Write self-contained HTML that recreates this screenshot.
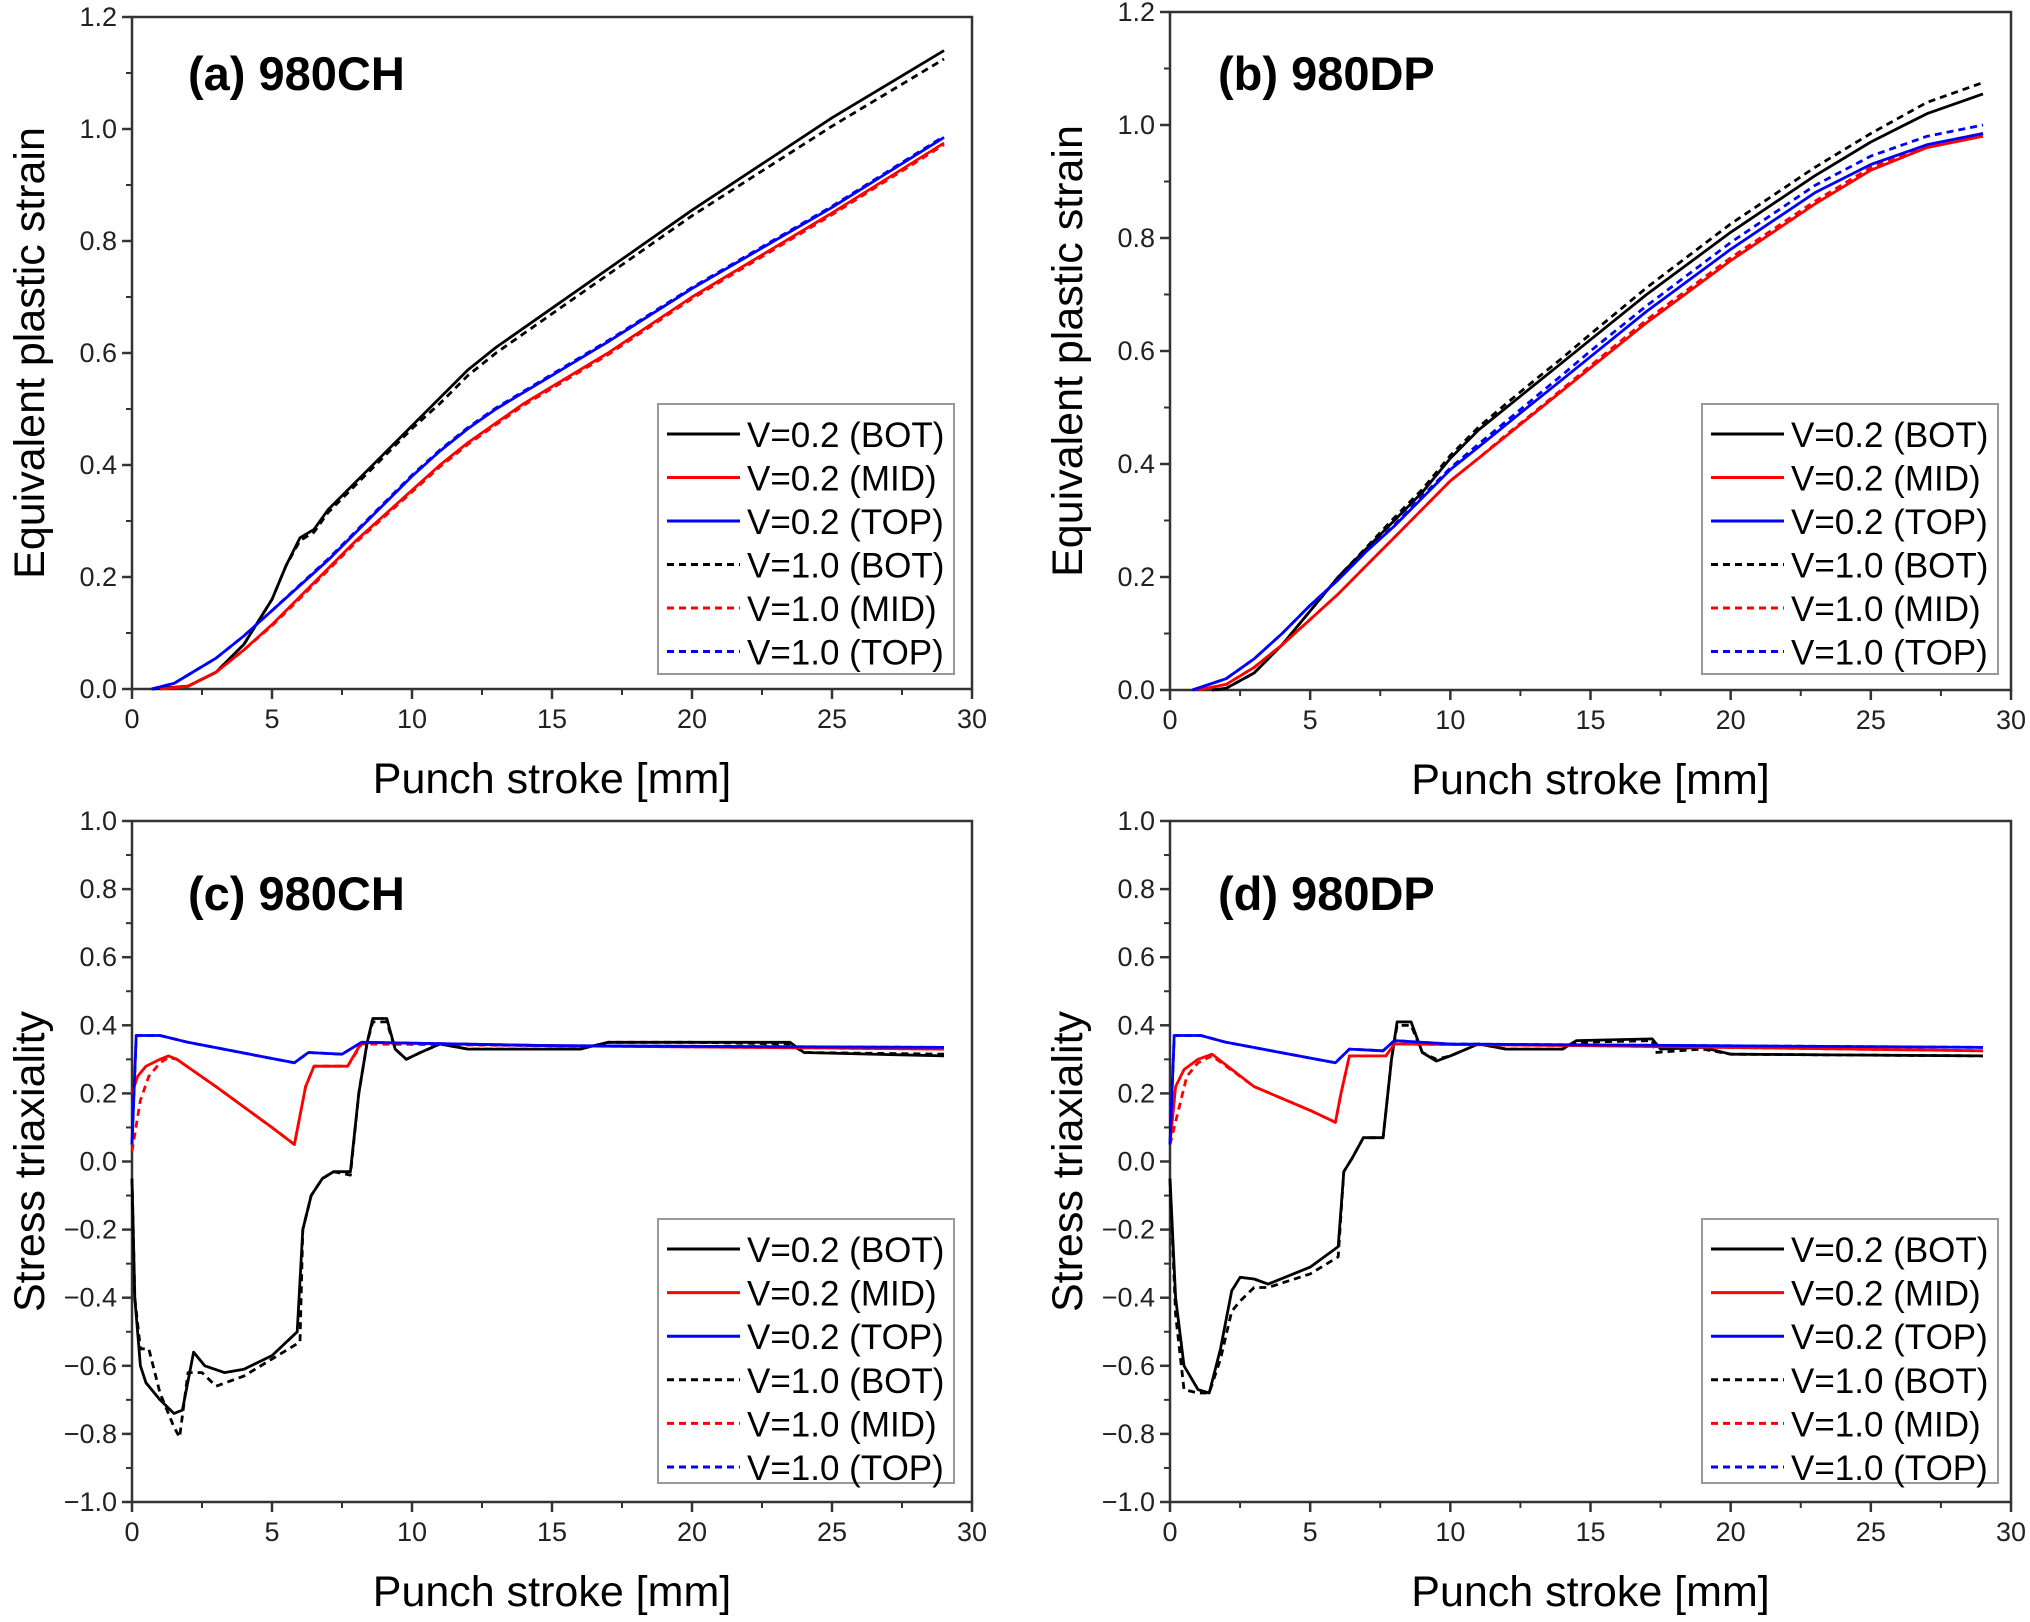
<!DOCTYPE html>
<html><head><meta charset="utf-8"><style>
html,body{margin:0;padding:0;background:#fff;}
svg{display:block;font-family:"Liberation Sans",Arial,sans-serif;}
</style></head><body>
<svg id="fig" width="2030" height="1622" viewBox="0 0 2030 1622" xmlns="http://www.w3.org/2000/svg"></svg>
<script>
// ---- data (x = punch stroke mm, y = value) ----
const xTicks = [0,5,10,15,20,25,30];
const strainTicks = [0.0,0.2,0.4,0.6,0.8,1.0,1.2];
const triTicks = [-1.0,-0.8,-0.6,-0.4,-0.2,0.0,0.2,0.4,0.6,0.8,1.0];
const legendLabels = ["V=0.2 (BOT)","V=0.2 (MID)","V=0.2 (TOP)","V=1.0 (BOT)","V=1.0 (MID)","V=1.0 (TOP)"];

// (a) 980CH strain
const aBot02 = [[0.7,0],[2,0.005],[3,0.03],[4,0.08],[5,0.16],[5.5,0.22],[6,0.27],[6.5,0.285],[7,0.32],[8,0.37],[9,0.42],[10,0.47],[11,0.52],[12,0.57],[13,0.61],[14,0.645],[15,0.68],[17,0.75],[20,0.855],[25,1.02],[29,1.14]];
const aMid02 = [[1,0],[2,0.005],[3,0.03],[4,0.07],[5,0.115],[6,0.165],[7,0.215],[8,0.265],[9,0.31],[10,0.355],[11,0.4],[12,0.44],[13,0.475],[14,0.51],[15,0.54],[17,0.6],[20,0.7],[25,0.85],[29,0.975]];
const aTop02 = [[0.7,0],[1.5,0.01],[2,0.025],[3,0.055],[4,0.095],[5,0.14],[6,0.185],[7,0.23],[8,0.28],[9,0.33],[10,0.38],[11,0.425],[12,0.465],[13,0.5],[14,0.53],[15,0.56],[17,0.62],[20,0.715],[25,0.86],[29,0.985]];
const aBot10 = [[0.7,0],[2,0.005],[3,0.03],[4,0.08],[5,0.16],[5.5,0.22],[6,0.265],[6.5,0.28],[7,0.315],[8,0.365],[9,0.415],[10,0.465],[11,0.51],[12,0.56],[13,0.6],[14,0.635],[15,0.67],[17,0.74],[20,0.845],[25,1.005],[29,1.125]];
const aMid10 = [[1,0],[2,0.005],[3,0.03],[4,0.07],[5,0.113],[6,0.162],[7,0.212],[8,0.262],[9,0.307],[10,0.352],[11,0.397],[12,0.437],[13,0.472],[14,0.507],[15,0.537],[17,0.597],[20,0.697],[25,0.847],[29,0.972]];
const aTop10 = [[0.7,0],[1.5,0.01],[2,0.025],[3,0.055],[4,0.095],[5,0.14],[6,0.186],[7,0.232],[8,0.282],[9,0.332],[10,0.382],[11,0.427],[12,0.467],[13,0.502],[14,0.532],[15,0.562],[17,0.622],[20,0.717],[25,0.862],[29,0.987]];

// (b) 980DP strain
const bBot02 = [[1.5,0],[2,0.003],[3,0.03],[4,0.08],[5,0.14],[6,0.2],[7,0.25],[8,0.3],[9,0.35],[10,0.41],[11,0.46],[12,0.5],[13,0.54],[14,0.58],[15,0.62],[17,0.7],[20,0.81],[23,0.91],[25,0.97],[27,1.02],[29,1.055]];
const bMid02 = [[1,0],[2,0.01],[3,0.04],[4,0.08],[5,0.125],[6,0.17],[7,0.22],[8,0.27],[9,0.32],[10,0.37],[11,0.41],[12,0.45],[13,0.49],[14,0.53],[15,0.57],[17,0.65],[20,0.76],[23,0.86],[25,0.92],[27,0.96],[29,0.98]];
const bTop02 = [[0.8,0],[2,0.02],[3,0.055],[4,0.1],[5,0.15],[6,0.195],[7,0.245],[8,0.29],[9,0.34],[10,0.39],[11,0.43],[12,0.47],[13,0.51],[14,0.55],[15,0.59],[17,0.67],[20,0.78],[23,0.88],[25,0.93],[27,0.965],[29,0.985]];
const bBot10 = [[1.5,0],[2,0.003],[3,0.03],[4,0.08],[5,0.14],[6,0.2],[7,0.252],[8,0.305],[9,0.355],[10,0.415],[11,0.465],[12,0.507],[13,0.548],[14,0.588],[15,0.63],[17,0.712],[20,0.825],[23,0.925],[25,0.985],[27,1.04],[29,1.075]];
const bMid10 = [[1,0],[2,0.01],[3,0.04],[4,0.08],[5,0.125],[6,0.17],[7,0.22],[8,0.27],[9,0.32],[10,0.37],[11,0.41],[12,0.452],[13,0.492],[14,0.533],[15,0.574],[17,0.655],[20,0.765],[23,0.865],[25,0.925],[27,0.965],[29,0.985]];
const bTop10 = [[0.8,0],[2,0.02],[3,0.055],[4,0.1],[5,0.15],[6,0.195],[7,0.245],[8,0.292],[9,0.343],[10,0.393],[11,0.435],[12,0.476],[13,0.517],[14,0.558],[15,0.6],[17,0.68],[20,0.792],[23,0.893],[25,0.945],[27,0.98],[29,1.0]];

// (c) 980CH triaxiality
const cBot02 = [[0,-0.05],[0.1,-0.4],[0.3,-0.6],[0.5,-0.65],[1,-0.7],[1.5,-0.74],[1.8,-0.73],[2.2,-0.56],[2.6,-0.6],[3.3,-0.62],[4,-0.61],[5,-0.57],[5.9,-0.5],[6.1,-0.2],[6.4,-0.1],[6.8,-0.05],[7.2,-0.03],[7.8,-0.03],[8.1,0.2],[8.4,0.35],[8.6,0.42],[9.1,0.42],[9.4,0.33],[9.8,0.3],[10.3,0.32],[11,0.345],[12,0.33],[14,0.33],[16,0.33],[17,0.35],[20,0.35],[23.5,0.35],[24,0.32],[29,0.31]];
const cMid02 = [[0,0.2],[0.2,0.25],[0.5,0.28],[1,0.3],[1.3,0.31],[1.6,0.3],[3,0.22],[5,0.1],[5.8,0.05],[6.2,0.22],[6.5,0.28],[7.7,0.28],[8.2,0.35],[15,0.34],[29,0.33]];
const cTop02 = [[0,0.05],[0.15,0.37],[1,0.37],[2,0.35],[5.8,0.29],[6.3,0.32],[7.5,0.315],[8.2,0.35],[15,0.34],[29,0.335]];
const cBot10 = [[0,-0.05],[0.1,-0.4],[0.3,-0.55],[0.6,-0.55],[1,-0.68],[1.5,-0.78],[1.7,-0.81],[2,-0.62],[2.5,-0.62],[3,-0.66],[4,-0.63],[5,-0.58],[6,-0.53],[6.1,-0.2],[6.4,-0.1],[6.8,-0.05],[7.2,-0.03],[7.8,-0.04],[8.1,0.2],[8.4,0.35],[8.6,0.41],[9.1,0.41],[9.4,0.33],[9.8,0.3],[10.3,0.32],[11,0.345],[12,0.33],[14,0.33],[16,0.33],[17,0.35],[20,0.35],[23.5,0.345],[24,0.32],[29,0.315]];
const cMid10 = [[0,0.03],[0.3,0.18],[0.6,0.25],[1,0.29],[1.3,0.305],[1.6,0.3],[3,0.22],[5,0.1],[5.8,0.05],[6.2,0.22],[6.5,0.28],[7.7,0.28],[8.2,0.345],[15,0.34],[29,0.33]];
const cTop10 = [[0,0.05],[0.15,0.37],[1,0.37],[2,0.35],[5.8,0.29],[6.3,0.32],[7.5,0.315],[8.2,0.35],[15,0.34],[29,0.335]];

// (d) 980DP triaxiality
const dBot02 = [[0,-0.05],[0.2,-0.4],[0.5,-0.6],[1,-0.67],[1.4,-0.68],[1.8,-0.55],[2.2,-0.38],[2.5,-0.34],[3,-0.345],[3.5,-0.36],[5,-0.31],[6,-0.25],[6.2,-0.03],[6.5,0.01],[6.9,0.07],[7.6,0.07],[7.9,0.3],[8.1,0.41],[8.6,0.41],[9,0.32],[9.5,0.295],[10,0.31],[11,0.345],[12,0.33],[14,0.33],[14.5,0.355],[17.2,0.36],[17.5,0.33],[19,0.335],[20,0.315],[29,0.31]];
const dMid02 = [[0,0.05],[0.2,0.22],[0.5,0.27],[1,0.3],[1.5,0.315],[3,0.22],[5,0.15],[5.9,0.115],[6.1,0.2],[6.4,0.31],[7.7,0.31],[8,0.345],[15,0.34],[29,0.325]];
const dTop02 = [[0,0.05],[0.15,0.37],[1.1,0.37],[2,0.35],[5.9,0.29],[6.4,0.33],[7.6,0.325],[8,0.355],[10,0.345],[29,0.335]];
const dBot10 = [[0,-0.05],[0.2,-0.45],[0.5,-0.67],[1,-0.68],[1.4,-0.68],[1.8,-0.58],[2.2,-0.44],[2.5,-0.41],[3,-0.37],[3.5,-0.37],[5,-0.33],[6,-0.28],[6.2,-0.03],[6.5,0.01],[6.9,0.07],[7.6,0.07],[7.9,0.3],[8.1,0.4],[8.6,0.4],[9,0.32],[9.5,0.3],[10,0.31],[11,0.345],[12,0.33],[14,0.33],[14.5,0.35],[17.2,0.355],[17.3,0.32],[19,0.33],[20,0.315],[29,0.31]];
const dMid10 = [[0,0.05],[0.3,0.15],[0.6,0.25],[1,0.29],[1.5,0.31],[3,0.22],[5,0.15],[5.9,0.115],[6.1,0.2],[6.4,0.31],[7.7,0.31],[8,0.345],[15,0.34],[29,0.325]];
const dTop10 = [[0,0.05],[0.15,0.37],[1.1,0.37],[2,0.35],[5.9,0.29],[6.4,0.33],[7.6,0.325],[8,0.355],[10,0.345],[29,0.335]];

const NS = "http://www.w3.org/2000/svg";
const svg = document.getElementById('fig');
function mk(tag, attrs, parent){ const e=document.createElementNS(NS,tag); for(const k in attrs) e.setAttribute(k,attrs[k]); (parent||svg).appendChild(e); return e; }

const colors = ["#000","#f00","#00f","#000","#f00","#00f"];
const dashes = [null,null,null,"7,5","7,5","7,5"];

function panel(cfg){
  const g = mk('g',{});
  
  
  const L=cfg.L,R=cfg.R,T=cfg.T,B=cfg.B;
  const ymin=cfg.ymin,ymax=cfg.ymax;
  const sx = v => L + (v-0)/(30-0)*(R-L);
  const sy = v => B - (v-ymin)/(ymax-ymin)*(B-T);
  const fr = mk('rect',{x:L,y:T,width:R-L,height:B-T,fill:'none',stroke:'#333','stroke-width':2.5},g);
  
  
  xTicks.forEach((t,i)=>{
    const x=sx(t);
    mk('line',{x1:x,y1:B,x2:x,y2:B+10,stroke:'#333','stroke-width':2.5},g);
    if(i<xTicks.length-1){ const xm=sx(t+2.5); mk('line',{x1:xm,y1:B,x2:xm,y2:B+6,stroke:'#333','stroke-width':2},g); }
    const tx=mk('text',{x:x,y:B+39,'font-size':27,'text-anchor':'middle',fill:'#222'},g);
    tx.textContent=t;
    
    
  });
  cfg.yTicks.forEach((t,i)=>{
    const y=sy(t);
    mk('line',{x1:L-10,y1:y,x2:L,y2:y,stroke:'#333','stroke-width':2.5},g);
    if(i<cfg.yTicks.length-1){ const ym=sy(t+(cfg.yTicks[1]-cfg.yTicks[0])/2); mk('line',{x1:L-6,y1:ym,x2:L,y2:ym,stroke:'#333','stroke-width':2},g); }
    const ty=mk('text',{x:L-15,y:y+9,'font-size':27,'text-anchor':'end',fill:'#222'},g);
    ty.textContent=(t<0?'\u2212':'')+Math.abs(t).toFixed(1);
    
    
  });
  const seriesNames=['v02-bot','v02-mid','v02-top','v10-bot','v10-mid','v10-top'];
  const order=[3,4,5,0,1,2];
  order.forEach(i=>{
    const pts = cfg.series[i].map(p=>sx(p[0]).toFixed(1)+','+sy(p[1]).toFixed(1)).join(' ');
    const a={points:pts,fill:'none',stroke:colors[i],'stroke-width':2.8,'stroke-linejoin':'round'};
    if(dashes[i]) a['stroke-dasharray']=dashes[i];
    const pl=mk('polyline',a,g);
    
    
  });
  const ti=mk('text',{x:cfg.titleX,y:cfg.titleY,'font-size':47,'font-weight':'bold',fill:'#000'},g);
  ti.textContent=cfg.title;
  
  
  const xl=mk('text',{x:(L+R)/2,y:B+104,'font-size':43,'text-anchor':'middle',fill:'#000'},g);
  xl.textContent='Punch stroke [mm]';
  
  
  const yc=(T+B)/2;
  const yl=mk('text',{x:L-88,y:yc,'font-size':43,'text-anchor':'middle',fill:'#000',transform:'rotate(-90 '+(L-88)+' '+yc+')'},g);
  yl.textContent=cfg.ylabel;
  
  
  const lg=mk('g',{},g);
  
  
  mk('rect',{x:cfg.legX,y:cfg.legY,width:296,height:cfg.legH,fill:'#fff',stroke:'#999','stroke-width':2},lg);
  legendLabels.forEach((lab,i)=>{
    const ry=cfg.legY+30+i*cfg.legStep;
    const la={x1:cfg.legX+9,y1:ry,x2:cfg.legX+82,y2:ry,stroke:colors[i],'stroke-width':3};
    if(dashes[i]) la['stroke-dasharray']=dashes[i];
    mk('line',la,lg);
    const lt=mk('text',{x:cfg.legX+89,y:ry+13,'font-size':35,fill:'#000'},lg);
    lt.textContent=lab;
    
    
  });
}

panel({name:'panel-a',L:132,R:972,T:17,B:689,ymin:0,ymax:1.2,yTicks:strainTicks,title:'(a)  980CH',titleX:188,titleY:90,ylabel:'Equivalent plastic strain',series:[aBot02,aMid02,aTop02,aBot10,aMid10,aTop10],legX:658,legY:404,legH:270,legStep:43.5});
panel({name:'panel-b',L:1170,R:2011,T:12,B:690,ymin:0,ymax:1.2,yTicks:strainTicks,title:'(b)  980DP',titleX:1218,titleY:90,ylabel:'Equivalent plastic strain',series:[bBot02,bMid02,bTop02,bBot10,bMid10,bTop10],legX:1702,legY:404,legH:270,legStep:43.5});
panel({name:'panel-c',L:132,R:972,T:821,B:1502,ymin:-1,ymax:1,yTicks:triTicks,title:'(c)  980CH',titleX:188,titleY:910,ylabel:'Stress triaxiality',series:[cBot02,cMid02,cTop02,cBot10,cMid10,cTop10],legX:658,legY:1219,legH:264,legStep:43.6});
panel({name:'panel-d',L:1170,R:2011,T:821,B:1502,ymin:-1,ymax:1,yTicks:triTicks,title:'(d)  980DP',titleX:1218,titleY:910,ylabel:'Stress triaxiality',series:[dBot02,dMid02,dTop02,dBot10,dMid10,dTop10],legX:1702,legY:1219,legH:264,legStep:43.6});
</script>
</body></html>
